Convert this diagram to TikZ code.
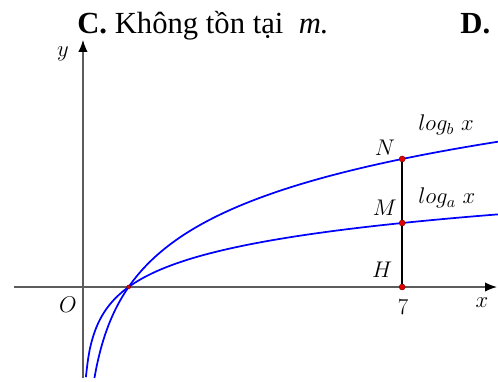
\RequirePackage{fix-cm}
\documentclass[tikz,border=0pt]{standalone}
\usepackage{fontspec}
\newfontfamily\vnserif{Liberation Serif}
\usetikzlibrary{arrows.meta}
\definecolor{axisgray}{HTML}{5C5C5C}
\definecolor{dotred}{HTML}{E00000}

\begin{document}
\begin{tikzpicture}[
    axis/.style={draw=axisgray, line width=1.1pt, -{Latex[length=9pt, width=7pt, color=black]}},
    curve/.style={draw=blue, line width=1.3pt, smooth, samples=200},
    dot/.style={circle, fill=dotred, draw=black!60!red, line width=0.3pt, minimum size=4.5pt, inner sep=0pt},
    lab/.style={font=\fontsize{17}{20}\selectfont, inner sep=0pt},
    head/.style={font=\vnserif\fontsize{23}{28}\selectfont, anchor=base west, inner sep=0pt},
    x=34.2pt, y=34.2pt]

    \useasboundingbox (-1.82, -2.083) rectangle (9.101, 6.294);

    % ----- answer line above the figure
    \node[head] (optC) at (-0.13, 5.57) {\textbf{C.} Không tồn tại \ \textit{m.}};
    \node[head] (optD) at (8.27, 5.57) {\textbf{D.}};

    % ----- axes
    \coordinate (xstart) at (-1.51, 0);
    \coordinate (xend)   at (9.08, 0);
    \coordinate (ystart) at (0, -1.995);
    \coordinate (yend)   at (0, 5.42);
    \draw[axis] (xstart) -- (xend);
    \draw[axis] (ystart) -- (yend);
    \node[lab] (ylab) at (-0.44, 5.11) {$y$};
    \node[lab] (xlab) at (8.75, -0.35) {$x$};
    \node[lab] (olab) at (-0.33, -0.39) {$O$};

    % ----- the two graphs: log_4 x below, log_2 x above
    \draw[curve, domain=0.0628:9.1] plot (\x, {ln(\x)/ln(4)});
    \draw[curve, domain=0.2508:9.1] plot (\x, {ln(\x)/ln(2)});
    \node[lab] (loga) at (7.98, 1.95) {$log_a\ x$};
    \node[lab] (logb) at (7.96, 3.55) {$log_b\ x$};

    % ----- vertical segment at x = 7
    \node[dot] (H) at (7, 0) {};
    \node[dot] (M) at (7, {ln(7)/ln(4)}) {};
    \node[dot] (N) at (7, {ln(7)/ln(2)}) {};
    \node[dot, minimum size=3pt] (P) at (1, 0) {};
    \draw[line width=1.1pt] (N) -- (M) -- (H);
    \node[lab] at (6.56, 0.37) {$H$};
    \node[lab] at (6.62, 1.73) {$M$};
    \node[lab] at (6.62, 3.05) {$N$};
    \node[lab] at (7.02, -0.44) {$7$};
\end{tikzpicture}
\end{document}
